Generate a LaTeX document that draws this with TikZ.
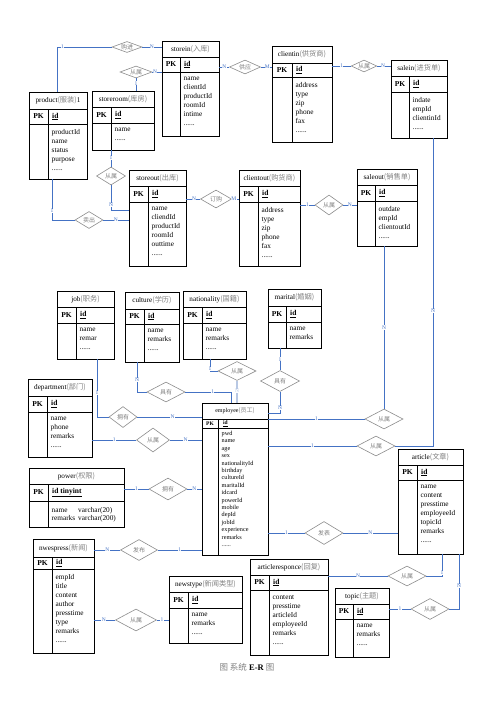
\documentclass[tikz,border=0pt]{standalone}
\usepackage{fontspec}
\setmainfont{Liberation Serif}
\newfontfamily\cjk{Noto Sans CJK SC}
\usepackage{tikz}
\usetikzlibrary{shapes}
\usetikzlibrary{fit}
\definecolor{linkblue}{RGB}{68,114,196}
\definecolor{lightlink}{RGB}{184,200,228}
\newcommand{\cn}[1]{{\cjk\color{gray}#1}}
\newcommand{\pksize}{\fontsize{7.5}{8}\selectfont}
% entity table: name, left, top, right, bottom, title bottom, pk bottom, divider, title
\newcommand{\entity}[9]{%
  \node[entbox, fit={(#2,-#3) (#4,-#5)}] (#1) {};
  \draw[entline] (#2,-#6) -- (#4,-#6);
  \draw[entline] (#2,-#7) -- (#4,-#7);
  \draw[entline] (#8,-#6) -- (#8,-#5);
  \node[enttitle] (#1-title) at ({(#2+#4)/2},{-(#3+#6)/2}) {#9};
  \node[pktext] (#1-pk) at ({(#2+#8)/2},{-(#6+#7)/2}) {PK};
  \coordinate (#1-key) at (#8,{-(#6+#7)/2});
  \coordinate (#1-attr) at (#8,-#7);
}
\tikzset{
    entbox/.style = {draw=black, line width=0.8pt, inner sep=0pt},
    entline/.style = {-, line width=0.8pt, black},
    enttitle/.style = {font=\fontsize{7.2}{8}\selectfont},
    pktext/.style = {inner sep=0pt, font=\bfseries\pksize},
    keytext/.style = {anchor=west, xshift=3pt, inner sep=1pt, font=\bfseries\fontsize{7.5}{8}\selectfont},
    attrtext/.style = {anchor=north west, align=left, xshift=2.5pt, yshift=-4pt, inner sep=1pt, font=\fontsize{7.3}{9}\selectfont},
    rel/.style = {diamond, aspect=2.5, draw=gray!90, line width=0.6pt, inner sep=0pt, font=\cjk\fontsize{6}{6}\selectfont, text=gray},
    link/.style = {-, line width=0.8pt, linkblue},
    linkl/.style = {-, line width=1.6pt, lightlink},
    card/.style = {font=\fontsize{5.5}{5.5}\selectfont, fill=white, inner sep=0.3pt},
}
\begin{document}
\begin{tikzpicture}[x=1pt,y=1pt]
\fill[white] (0,0) rectangle (496,-702);
\useasboundingbox (0,0) rectangle (496,-702);
% entities
\entity{product}{29}{92}{87}{179}{109}{124}{48}{product\cn{(服装)}1}
\node[keytext] (product-k) at (product-key) {\underline{id}};
\node[attrtext] (product-a) at (product-attr) {productId\\name\\status\\purpose\\......};
\entity{storeroom}{92}{91}{154}{150}{107}{123}{111}{storeroom\cn{(库房)}}
\node[keytext] (storeroom-k) at (storeroom-key) {\underline{id}};
\node[attrtext] (storeroom-a) at (storeroom-attr) {name\\......};
\entity{storein}{162}{41}{219}{136}{57}{72}{180}{storein\cn{(入库)}}
\node[keytext] (storein-k) at (storein-key) {\underline{id}};
\node[attrtext] (storein-a) at (storein-attr) {name\\clientId\\productId\\roomId\\intime\\......};
\entity{clientin}{272}{46}{332}{142}{63}{77}{292}{clientin\cn{(供货商)}}
\node[keytext] (clientin-k) at (clientin-key) {\underline{id}};
\node[attrtext] (clientin-a) at (clientin-attr) {address\\type\\zip\\phone\\fax\\......};
\entity{salein}{391}{60}{447}{138}{76}{92}{409}{salein\cn{(进货单)}}
\node[keytext] (salein-k) at (salein-key) {\underline{id}};
\node[attrtext] (salein-a) at (salein-attr) {indate\\empId\\clientinId\\......};
\entity{storeout}{129}{170}{186}{266}{186}{202}{148}{storeout\cn{(出库)}}
\node[keytext] (storeout-k) at (storeout-key) {\underline{id}};
\node[attrtext] (storeout-a) at (storeout-attr) {name\\cliendId\\productId\\roomId\\outtime\\......};
\entity{clientout}{239}{170}{300}{266}{186}{202}{258}{clientout\cn{(购货商)}}
\node[keytext] (clientout-k) at (clientout-key) {\underline{id}};
\node[attrtext] (clientout-a) at (clientout-attr) {address\\type\\zip\\phone\\fax\\......};
\entity{saleout}{357}{169}{417}{246}{185}{201}{375}{saleout\cn{(销售单)}}
\node[keytext] (saleout-k) at (saleout-key) {\underline{id}};
\node[attrtext] (saleout-a) at (saleout-attr) {outdate\\empId\\clientoutId\\......};
\entity{job}{57}{291}{114}{359}{307}{323}{76}{job\cn{(职务)}}
\node[keytext] (job-k) at (job-key) {\underline{id}};
\node[attrtext] (job-a) at (job-attr) {name\\remar\\......};
\entity{culture}{125}{292}{179}{362}{309}{324}{144}{culture\cn{(学历)}}
\node[keytext] (culture-k) at (culture-key) {\underline{id}};
\node[attrtext] (culture-a) at (culture-attr) {name\\remarks\\......};
\entity{nationality}{183}{291}{246}{359}{307}{323}{202}{nationality\cn{(国籍)}}
\node[keytext] (nationality-k) at (nationality-key) {\underline{id}};
\node[attrtext] (nationality-a) at (nationality-attr) {name\\remarks\\......};
\entity{marital}{268}{289}{321}{348}{306}{322}{286}{marital\cn{(婚姻)}}
\node[keytext] (marital-k) at (marital-key) {\underline{id}};
\node[attrtext] (marital-a) at (marital-attr) {name\\remarks};
\entity{department}{28}{379}{92}{457}{396}{412}{47}{department\cn{(部门)}}
\node[keytext] (department-k) at (department-key) {\underline{id}};
\node[attrtext] (department-a) at (department-attr) {name\\phone\\remarks\\......};
\begin{scope}
\renewcommand{\pksize}{\fontsize{5.5}{6}\selectfont}
\entity{employee}{202}{403}{268}{555}{419}{428}{218}{\fontsize{6}{7}\selectfont employee\cn{(员工)}}
\end{scope}
\node[keytext, xshift=1pt, font=\bfseries\fontsize{5.5}{6}\selectfont] (employee-k) at (employee-key) {\underline{id}};
\node[attrtext, yshift=2pt, font=\fontsize{6.2}{7.4}\selectfont] (employee-a) at (employee-attr) {pwd\\name\\age\\sex\\nationalityId\\birthday\\cultureId\\maritalId\\idcard\\powerId\\mobile\\depId\\jobId\\experience\\remarks\\......};
\entity{power}{29}{468}{124}{527}{484}{501}{48}{power\cn{(权限)}}
\node[keytext] (power-k) at (power-key) {\underline{id tinyint}};
\node[attrtext] (power-a) at (power-attr) {\begin{tabular}{@{}l@{\hspace{3pt}}l@{}}name & varchar(20)\\[-1.5pt] remarks & varchar(200)\end{tabular}};
\entity{nwespress}{33}{539}{94}{653}{557}{569}{52}{nwespress\cn{(新闻)}}
\node[keytext] (nwespress-k) at (nwespress-key) {\underline{id}};
\node[attrtext] (nwespress-a) at (nwespress-attr) {empId\\title\\content\\author\\presstime\\type\\remarks\\......};
\entity{newstype}{169}{576}{242}{643}{592}{608}{188}{newstype\cn{(新闻类型)}}
\node[keytext] (newstype-k) at (newstype-key) {\underline{id}};
\node[attrtext] (newstype-a) at (newstype-attr) {name\\remarks\\......};
\entity{article}{398}{449}{463}{554}{465}{480}{417}{article\cn{(文章)}}
\node[keytext] (article-k) at (article-key) {\underline{id}};
\node[attrtext] (article-a) at (article-attr) {name\\content\\presstime\\employeeId\\topicId\\remarks\\......};
\entity{articleresponce}{250}{559}{328}{655}{575}{590}{269}{articleresponce\cn{(回复)}}
\node[keytext] (articleresponce-k) at (articleresponce-key) {\underline{id}};
\node[attrtext] (articleresponce-a) at (articleresponce-attr) {content\\presstime\\articleId\\employeeId\\remarks\\......};
\entity{topic}{335}{588}{389}{657}{604}{619}{353}{topic\cn{(主题)}}
\node[keytext] (topic-k) at (topic-key) {\underline{id}};
\node[attrtext] (topic-a) at (topic-attr) {name\\remarks\\......};
% relationships
\node[rel, minimum width=30, minimum height=11] at (127,-47) (r1) {购进};
\node[rel, minimum width=32, minimum height=12] at (136,-72) (r2) {从属};
\node[rel, minimum width=31, minimum height=14] at (245,-67) (r3) {供应};
\node[rel, minimum width=25, minimum height=12] at (364,-66) (r4) {从属};
\node[rel, minimum width=29, minimum height=18] at (111,-176) (r5) {从属};
\node[rel, minimum width=28, minimum height=17] at (89,-220) (r6) {卖出};
\node[rel, minimum width=31, minimum height=18] at (216,-199) (r7) {订购};
\node[rel, minimum width=28, minimum height=20] at (329,-205) (r8) {从属};
\node[rel, minimum width=28, minimum height=21] at (123,-417) (r9) {拥有};
\node[rel, minimum width=38, minimum height=20] at (166,-392) (r10) {具有};
\node[rel, minimum width=38, minimum height=19] at (237,-371) (r11) {从属};
\node[rel, minimum width=39, minimum height=21] at (280,-381) (r12) {具有};
\node[rel, minimum width=33, minimum height=24] at (153,-440) (r13) {从属};
\node[rel, minimum width=38, minimum height=20] at (384,-419) (r14) {从属};
\node[rel, minimum width=38, minimum height=20] at (376,-446) (r15) {从属};
\node[rel, minimum width=38, minimum height=22] at (168,-489) (r16) {拥有};
\node[rel, minimum width=37, minimum height=21] at (139,-550) (r17) {发布};
\node[rel, minimum width=41, minimum height=22] at (136,-620) (r18) {从属};
\node[rel, minimum width=38, minimum height=23] at (324,-533) (r19) {发表};
\node[rel, minimum width=38, minimum height=20] at (407,-576) (r20) {从属};
\node[rel, minimum width=38, minimum height=21] at (430,-609) (r21) {从属};
%
\draw[link] ([xshift=-1pt]product.north) |- node[card, pos=0.55] {1} (r1.west);
\draw[link] (r1.east) -- node[card, pos=0.5] {N} (r1.east -| storein.west);
\draw[link] (r2.south) -- node[card, pos=0.4] {1} (r2.south |- storeroom.north);
\draw[link] (r2.east) -- node[card, pos=0.3] {N} (r2.east -| storein.west);
\draw[link] (r3.west -| storein.east) -- node[card, pos=0.5] {N} (r3.west);
\draw[link] (r3.east) -- node[card, pos=0.6] {M} (r3.east -| clientin.west);
\draw[link] (r4.west -| clientin.east) -- node[card, pos=0.5] {1} (r4.west);
\draw[link] (r4.east) -- node[card, pos=0.45] {N} (r4.east -| salein.west);
\draw[link] (r5.north |- storeroom.south) -- node[card, pos=0.45] {1} (r5.north);
\draw[link] (r5.south) |- node[card, pos=0.4] {N} ([yshift=8pt]storeout.west);
\draw[link] ([xshift=-6pt]product.south) |- node[card, pos=0.39] {1} (r6.west);
\draw[link] (r6.east) -- node[card, pos=0.5] {N} (r6.east -| storeout.west);
\draw[link] (r7.west -| storeout.east) -- node[card, pos=0.55] {N} (r7.west);
\draw[link] (r7.east) -- node[card, pos=0.3] {M} (r7.east -| clientout.west);
\draw[link] (r8.west -| clientout.east) -- node[card, pos=0.5] {1} (r8.west);
\draw[link] (r8.east) -- node[card, pos=0.5] {N} (r8.east -| saleout.west);
\draw[link] ([xshift=11.5pt]job.south) |- node[card, pos=0.29] {1} (r9.west);
\draw[link] (r9.east) -- node[card, pos=0.55] {N} (r9.east -| employee.west);
\draw[link] ([xshift=-15pt]culture.south) |- node[card, pos=0.3] {N} (r10.west);
\draw[link] (r10.east) -| node[card, pos=0.3] {1} ([xshift=-4pt]employee.north);
\draw[link] ([xshift=-4.5pt]nationality.south) |- node[card, pos=0.42] {1} (r11.west);
\draw[linkl] (r11.south) -- node[card, pos=0.47] {N} (r11.south |- employee.north);
\draw[link] (r12.north) -- node[card, pos=0.5] {1} (r12.north |- marital.south);
\draw[link] (r12.south) |- node[card, pos=0.37] {N} ([yshift=-11pt]employee.north east);
\draw[link] (r13.west -| department.east) -- node[card, pos=0.5] {1} (r13.west);
\draw[link] (r13.east) -- node[card, pos=0.5] {N} (r13.east -| employee.west);
\draw[link] (r14.north) -- node[card, pos=0.5] {N} (r14.north |- saleout.south);
\draw[link] (r14.west) -- node[card, pos=0.5] {1} (r14.west -| employee.east);
\draw[link] ([xshift=14pt]salein.south) |- node[card, pos=0.28] {N} (r15.east);
\draw[link] (r15.west) -- node[card, pos=0.5] {1} (r15.west -| employee.east);
\draw[link] (r16.west -| power.east) -- node[card, pos=0.5] {1} (r16.west);
\draw[link] (r16.east) -- node[card, pos=0.5] {N} (r16.east -| employee.west);
\draw[link] (r17.west -| nwespress.east) -- node[card, pos=0.5] {N} (r17.west);
\draw[link] (r17.east) -- node[card, pos=0.5] {1} (r17.east -| employee.west);
\draw[link] (r18.west -| nwespress.east) -- node[card, pos=0.45] {N} (r18.west);
\draw[link] (r18.east) -- node[card, pos=0.45] {1} (r18.east -| newstype.west);
\draw[link] (r19.west -| employee.east) -- node[card, pos=0.5] {1} (r19.west);
\draw[link] (r19.east) -- node[card, pos=0.5] {N} (r19.east -| article.west);
\draw[link] (r20.west -| articleresponce.east) -- node[card, pos=0.5] {N} (r20.west);
\draw[link] (r20.east) -| node[card, pos=0.57] {1} ([xshift=11.5pt]article.south);
\draw[link] ([xshift=28.5pt]article.south) |- node[card, pos=0.29] {N} (r21.east);
\draw[link] (r21.west) -- node[card, pos=0.5] {1} (r21.west -| topic.east);
%
\node[font=\fontsize{8.5}{9}\selectfont] (caption) at (247,-667) {\cn{图\ 系统} \textbf{E-R} \cn{图}};
\end{tikzpicture}
\end{document}
